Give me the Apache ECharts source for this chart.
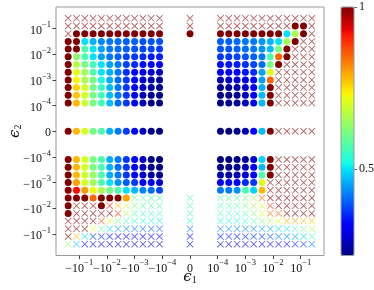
<!DOCTYPE html>
<html><head><meta charset="utf-8">
<script src="https://cdn.jsdelivr.net/npm/echarts@6/dist/echarts.min.js"></script>
<style>html,body{margin:0;padding:0;background:#fff}#c{width:374px;height:290px}</style>
</head><body><div id="c"></div>
<script>
// |epsilon| exponents of the sampled grid (left group order: far left = -10^-0.6)
const gridExps = [-0.6,-0.9,-1.2,-1.5,-1.8,-2.1,-2.4,-2.7,-3.0,-3.3,-3.6,-3.9];
const eps1 = [...gridExps.map(p => -Math.pow(10, p)), 0, ...gridExps.slice().reverse().map(p => Math.pow(10, p))];
const eps2 = [...gridExps.map(p => Math.pow(10, p)), 0, ...gridExps.slice().reverse().map(p => -Math.pow(10, p))]; // top to bottom
const tickExps = [-1, -2, -3, -4];
const colorbarTicks = [0.5, 1];
const vmin = 0.233, vmax = 1;

// marker type per cell: o = circle, x = cross, - = no marker
const markers = [
 'xxxxxxxxxxxx'+'x'+'xxxxxxxxxxxx',
 'xxxxxxxxxxxx'+'x'+'xxxxxxxxxoox',
 'xooooooooooo'+'o'+'ooooooooooox',
 'oooooooooooo'+'-'+'ooooooooooxx',
 'oooooooooooo'+'-'+'oooooooooxxx',
 'oooooooooooo'+'-'+'oooooooooxxx',
 'oooooooooooo'+'-'+'ooooooooxxxx',
 'oooooooooooo'+'-'+'oooooooxxxxx',
 'oooooooooooo'+'-'+'oooooooxxxxx',
 'oooooooooooo'+'-'+'oooooooxxxxx',
 'oooooooooooo'+'-'+'oooooooxxxxx',
 'oooooooooooo'+'-'+'oooooooxxxxx',
 'oooooooooooo'+'-'+'oooooooxxxxx',
 'oooooooooooo'+'-'+'oooooooxxxxx',
 'oooooooooooo'+'-'+'oooooooxxxxx',
 'oooooooooooo'+'-'+'oooooooxxxxx',
 'oooooooooooo'+'-'+'ooooooxxxxxx',
 'oooooooooooo'+'-'+'ooooooxxxxxx',
 'ooooooooxxxx'+'x'+'xxxxxxxxxxxx',
 'oxxxoxxxxxxx'+'x'+'xxxxxxxxxxxx',
 'oxxxxxxxxxxx'+'x'+'xxxxxxxxxxxx',
 'xxxxxxxxxxxx'+'x'+'xxxxxxxxxxxx',
 'xxxxxxxxxxxx'+'x'+'xxxxxxxxxxxx',
 'xxxxxxxxxxxx'+'x'+'xxxxxxxxxxxx',
 'xxxxxxxxxxxx'+'x'+'xxxxxxxxxxxx'
];

// colour values, rows top to bottom: [12 left cols, zero col, 12 right cols]
const values = [
 [1,1,1,1,1,1,1,1,1,1,1,1, 1, 1,1,1,1,1,1,1,1,1,1,1,1],
 [1,1,1,1,1,1,1,1,1,1,1,1, 1, 1,1,1,1,1,1,1,1,1,1,1,1],
 [1,1,1,1,1,1,1,1,1,1,1,1, 1, 1,1,1,1,1,1,1,1,0.50,0.66,1,1],
 [1,1,0.50,0.46,0.43,0.42,0.41,0.40,0.40,0.39,0.39,0.39, null, 0.40,0.40,0.41,0.42,0.42,0.44,0.46,0.50,0.65,1,1,1],
 [1,1,0.57,0.50,0.45,0.42,0.41,0.40,0.39,0.38,0.38,0.37, null, 0.39,0.39,0.40,0.41,0.42,0.44,0.47,0.615,1,1,1,1],
 [1,0.63,0.57,0.50,0.45,0.42,0.40,0.38,0.37,0.36,0.35,0.35, null, 0.37,0.37,0.38,0.39,0.40,0.42,0.57,0.85,1,1,1,1],
 [1,0.67,0.61,0.56,0.50,0.45,0.42,0.38,0.36,0.34,0.33,0.32, null, 0.34,0.34,0.35,0.36,0.38,0.41,0.61,1,1,1,1,1],
 [1,0.71,0.65,0.57,0.50,0.46,0.42,0.36,0.33,0.31,0.29,0.28, null, 0.31,0.32,0.33,0.34,0.36,0.45,0.71,1,1,1,1,1],
 [1,0.73,0.66,0.61,0.52,0.46,0.41,0.37,0.33,0.29,0.27,0.25, null, 0.27,0.28,0.29,0.30,0.33,0.45,0.85,1,1,1,1,1],
 [1,0.76,0.70,0.61,0.55,0.47,0.42,0.37,0.32,0.28,0.26,0.24, null, 0.25,0.25,0.26,0.28,0.32,0.46,1,1,1,1,1,1],
 [1,0.77,0.70,0.61,0.56,0.47,0.42,0.37,0.31,0.27,0.25,0.24, null, 0.24,0.24,0.25,0.27,0.31,0.47,1,1,1,1,1,1],
 [1,0.78,0.69,0.61,0.56,0.47,0.41,0.37,0.31,0.27,0.24,0.23, null, 0.23,0.24,0.25,0.27,0.31,0.47,1,1,1,1,1,1],
 [1,0.78,0.70,0.61,0.57,0.46,0.42,0.37,0.32,0.28,0.24,0.23, null, 0.23,0.23,0.24,0.27,0.32,0.47,1,1,1,1,1,1],
 [1,0.78,0.70,0.61,0.57,0.46,0.42,0.37,0.32,0.28,0.24,0.23, null, 0.23,0.23,0.24,0.25,0.29,0.49,1,1,1,1,1,1],
 [1,0.78,0.70,0.61,0.57,0.46,0.41,0.37,0.32,0.27,0.24,0.23, null, 0.24,0.24,0.25,0.27,0.32,0.47,1,1,1,1,1,1],
 [1,0.78,0.69,0.64,0.57,0.46,0.42,0.37,0.32,0.29,0.26,0.24, null, 0.26,0.26,0.27,0.29,0.32,0.57,1,1,1,1,1,1],
 [1,0.80,0.70,0.65,0.57,0.50,0.44,0.40,0.37,0.33,0.32,0.29, null, 0.32,0.32,0.33,0.36,0.37,0.71,1,1,1,1,1,1],
 [1,0.92,0.81,0.72,0.66,0.61,0.57,0.50,0.47,0.43,0.41,0.38, null, 0.42,0.42,0.44,0.57,0.49,0.78,1,1,1,1,1,1],
 [1,1,1,0.85,1,1,1,0.80,0.62,0.57,0.57,0.57, 0.57, 0.57,0.57,0.57,0.61,0.66,0.85,1,1,1,1,1,1],
 [1,1,1,1,1,0.92,0.78,0.71,0.61,0.57,0.57,0.57, 0.57, 0.57,0.57,0.57,0.61,0.66,0.71,0.90,1,1,1,1,1],
 [1,1,1,1,1,1,0.90,0.66,0.57,0.56,0.56,0.56, 0.56, 0.56,0.56,0.56,0.57,0.62,0.71,0.85,0.85,1,1,1,1],
 [1,1,1,1,0.87,0.71,0.62,0.56,0.55,0.53,0.52,0.52, 0.52, 0.52,0.52,0.52,0.55,0.57,0.61,0.66,0.71,0.78,0.80,0.78,0.78],
 [1,1,1,0.71,0.57,0.50,0.45,0.43,0.42,0.41,0.40,0.40, 0.41, 0.42,0.43,0.43,0.43,0.43,0.45,0.46,0.49,0.50,0.57,0.62,0.66],
 [1,0.78,0.50,0.38,0.36,0.34,0.33,0.33,0.33,0.33,0.33,0.33, 0.34, 0.35,0.36,0.36,0.36,0.37,0.38,0.40,0.42,0.44,0.46,0.50,0.57],
 [0.65,0.47,0.33,0.28,0.27,0.27,0.26,0.26,0.26,0.26,0.26,0.26, 0.27, 0.27,0.27,0.28,0.28,0.29,0.29,0.30,0.31,0.33,0.35,0.37,0.42]
];

// symmetric-log transform, linthresh 1e-4
function symlog(v){ return v === 0 ? 0 : Math.sign(v) * (Math.log10(Math.abs(v)) + 5); }

function interp(n, pts){
  for (let i = 1; i < pts.length; i++){
    if (n <= pts[i][0]){ const a = pts[i-1], b = pts[i]; return a[1] + (b[1]-a[1]) * (n-a[0])/(b[0]-a[0]); }
  }
  return pts[pts.length-1][1];
}
function jet(n){
  const r = interp(n, [[0,0],[0.35,0],[0.66,1],[0.89,1],[1,0.5]]);
  const g = interp(n, [[0,0],[0.125,0],[0.375,1],[0.64,1],[0.91,0],[1,0]]);
  const b = interp(n, [[0,0.5],[0.11,1],[0.34,1],[0.65,0],[1,0]]);
  const h = x => Math.round(x*255).toString(16).padStart(2,'0');
  return '#' + h(r) + h(g) + h(b);
}
const jetColors = []; for (let i = 0; i <= 100; i++) jetColors.push(jet(i/100));

const circles = [], crosses = [];
for (let i = 0; i < eps2.length; i++){
  for (let j = 0; j < eps1.length; j++){
    const m = markers[i][j];
    if (values[i][j] === null) continue;
    const d = [symlog(eps1[j]), symlog(eps2[i]), values[i][j]];
    if (m === 'o') circles.push(d); else if (m === 'x') crosses.push(d);
  }
}

const tickPos = [...tickExps.map(e => -(e+5)), 0, ...tickExps.slice().reverse().map(e => e+5)];
const FONT = 'Liberation Serif';
function tickText(t){
  if (Math.abs(t) < 1e-9) return '{b|0}';
  const e = Math.round(Math.abs(t)) - 5;
  return (t < 0 ? '{b|\u221210}' : '{b|10}') + '{s|\u2212' + (-e) + '}';
}
const rich = {
  b: {fontSize: 12, fontFamily: FONT, color: '#111', lineHeight: 16, verticalAlign: 'bottom'},
  s: {fontSize: 8.5, fontFamily: FONT, color: '#111', verticalAlign: 'top'}
};
const crossPath = 'path://M0.5,-0.5L10.5,9.5L9.5,10.5L-0.5,0.5ZM10.5,0.5L0.5,10.5L-0.5,9.5L9.5,-0.5Z';
const nameRich = {
  e: {fontSize: 15, fontFamily: 'DejaVu Serif', fontStyle: 'italic', color: '#111'},
  u: {fontSize: 10, fontFamily: FONT, color: '#111', verticalAlign: 'bottom', padding: [6,0,0,0]}
};

const chart = echarts.init(document.getElementById('c'), null, {renderer: 'canvas'});
chart.setOption({
  animation: false,
  backgroundColor: '#fff',
  grid: [
    {left: 56, right: 50, top: 7, bottom: 34.5, show: true, borderColor: '#999', borderWidth: 1, backgroundColor: 'transparent', containLabel: false, outerBoundsMode: 'none'},
    {left: 341, width: 13, top: 7, bottom: 34.5, show: true, borderColor: '#999', borderWidth: 1, z: 10, containLabel: false, outerBoundsMode: 'none'}
  ],
  xAxis: [
    {type: 'value', gridIndex: 0, min: -4.84, max: 4.84,
     axisLine: {show: false, onZero: false}, splitLine: {show: false},
     axisTick: {show: true, customValues: tickPos, length: 3.5, lineStyle: {color: '#444'}},
     axisLabel: {customValues: tickPos, formatter: v => tickText(v), rich: rich, margin: 3, showMinLabel: true, showMaxLabel: true, hideOverlap: false},
     name: '{e|\u03f5}{u|1}', nameLocation: 'middle', nameGap: 14, nameMoveOverlap: false,
     nameTextStyle: {rich: nameRich, verticalAlign: 'top'}},
    {type: 'value', gridIndex: 1, min: 0, max: 1, show: false}
  ],
  yAxis: [
    {type: 'value', gridIndex: 0, min: -4.84, max: 4.84,
     axisLine: {show: false, onZero: false}, splitLine: {show: false},
     axisTick: {show: true, customValues: tickPos, length: 3.5, lineStyle: {color: '#444'}},
     axisLabel: {customValues: tickPos, formatter: v => tickText(v), rich: rich, margin: 5, showMinLabel: true, showMaxLabel: true, hideOverlap: false},
     name: '{e|\u03f5}{u|2}', nameLocation: 'middle', nameGap: 33, nameRotate: 90, nameMoveOverlap: false,
     nameTextStyle: {rich: nameRich}},
    {type: 'value', gridIndex: 1, min: vmin, max: vmax, position: 'right',
     axisLine: {show: false, onZero: false}, splitLine: {show: false},
     axisTick: {show: true, customValues: colorbarTicks, length: 3, lineStyle: {color: '#666'}},
     axisLabel: {customValues: colorbarTicks, fontSize: 12, fontFamily: FONT, color: '#111', margin: 5, formatter: v => String(v)}}
  ],
  visualMap: {
    type: 'continuous', min: vmin, max: vmax, dimension: 2, seriesIndex: [0, 1],
    inRange: {color: jetColors}, calculable: false, show: true,
    left: 341, top: 7, itemWidth: 13, itemHeight: 248.5, padding: 0, text: null
  },
  series: [
    {type: 'scatter', xAxisIndex: 0, yAxisIndex: 0, data: circles, symbol: 'circle', symbolSize: 7,
     itemStyle: {opacity: 1}, silent: true},
    {type: 'scatter', xAxisIndex: 0, yAxisIndex: 0, data: crosses, symbol: crossPath, symbolSize: 7,
     itemStyle: {opacity: 0.6}, silent: true}
  ]
});
</script></body></html>
